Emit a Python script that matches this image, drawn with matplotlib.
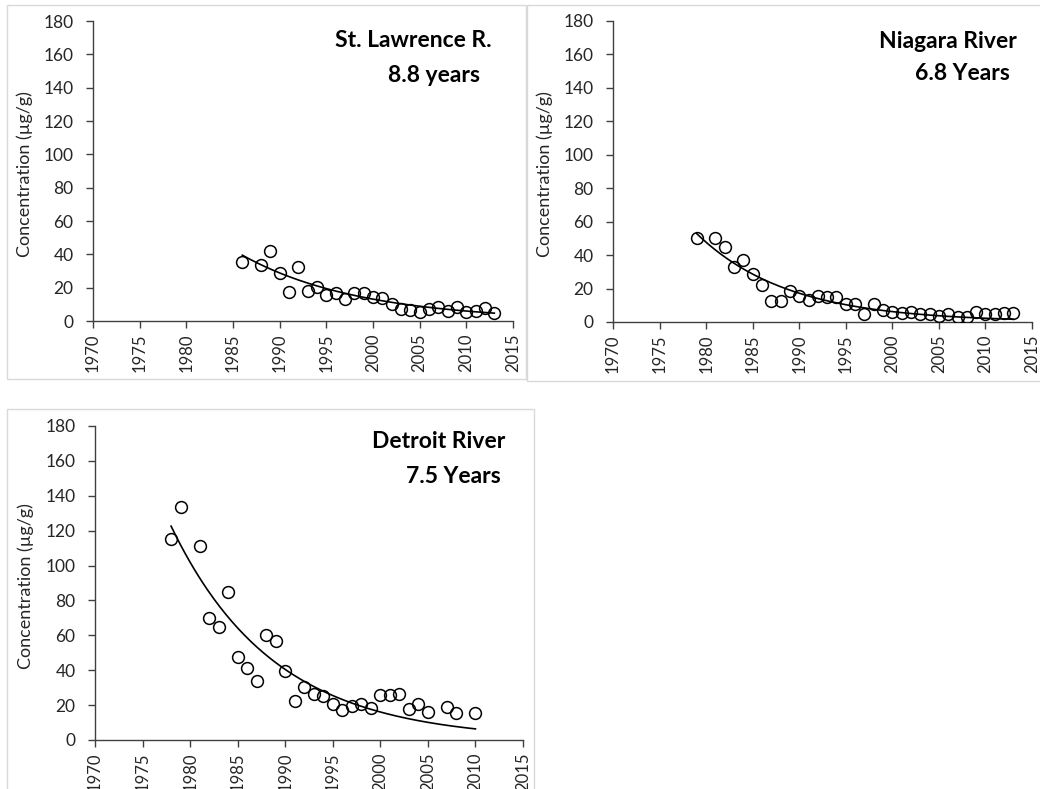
import matplotlib
matplotlib.use("Agg")
import matplotlib.pyplot as plt
import numpy as np
from matplotlib.patches import Rectangle

plt.rcParams["font.family"] = ["Lato", "DejaVu Sans"]

W, H = 1040, 789

# St. Lawrence River
sl_years = [1986, 1988, 1989, 1990, 1991, 1992, 1993, 1994, 1995, 1996, 1997, 1998, 1999, 2000,
            2001, 2002, 2003, 2004, 2005, 2006, 2007, 2008, 2009, 2010, 2011, 2012, 2013]
sl_conc = [35.6, 33.6, 42.2, 28.6, 17.6, 32.6, 18.2, 20.2, 15.6, 16.6, 13.2, 17.0, 16.6, 14.6,
           13.6, 10.2, 7.0, 6.6, 5.2, 7.0, 8.6, 6.2, 8.6, 5.2, 6.2, 7.6, 4.6]

# Niagara River
nr_years = [1979, 1981, 1982, 1983, 1984, 1985, 1986, 1987, 1988, 1989, 1990, 1991, 1992, 1993,
            1994, 1995, 1996, 1997, 1998, 1999, 2000, 2001, 2002, 2003, 2004, 2005, 2006, 2007,
            2008, 2009, 2010, 2011, 2012, 2013]
nr_conc = [50.0, 50.0, 45.0, 33.0, 37.0, 28.5, 22.0, 12.4, 12.4, 18.5, 15.5, 13.0, 15.3, 15.0,
           15.0, 10.6, 11.0, 4.6, 10.6, 7.0, 6.0, 5.6, 6.0, 5.0, 4.6, 3.6, 4.6, 3.0,
           3.0, 6.0, 5.0, 4.6, 5.6, 5.6]

# Detroit River
dr_years = [1978, 1979, 1981, 1982, 1983, 1984, 1985, 1986, 1987, 1988, 1989, 1990, 1991, 1992,
            1993, 1994, 1995, 1996, 1997, 1998, 1999, 2000, 2001, 2002, 2003, 2004, 2005, 2007,
            2008, 2010]
dr_conc = [115.0, 133.8, 111.0, 70.0, 65.0, 84.6, 47.8, 41.0, 33.6, 60.4, 56.5, 39.3, 22.2, 30.5,
           26.6, 25.0, 20.7, 17.3, 19.3, 20.7, 18.3, 25.6, 26.0, 26.6, 17.7, 20.7, 16.3, 18.7,
           15.7, 15.3]

# exponential decay fits: starting concentration and half-life (years)
fit_start = [39.5, 52.8, 122.6]
half_lives = [8.8, 6.8, 7.5]
site_names = ["St. Lawrence R.", "Niagara River", "Detroit River"]
half_life_labels = ["8.8 years", "6.8 Years", "7.5 Years"]

x_ticks = list(range(1970, 2016, 5))
y_ticks = list(range(0, 181, 20))


def fig_rect(x0, y0, x1, y1):
    """Pixel box (top-left origin) -> figure-fraction [left, bottom, width, height]."""
    return [x0 / W, 1 - y1 / H, (x1 - x0) / W, (y1 - y0) / H]


fig = plt.figure(figsize=(W / 100, H / 100), dpi=100)
fig.patch.set_facecolor("white")

# light chart-area borders
for box in [(7, 5, 526, 379), (527, 5, 1045, 381), (7, 409, 534, 795)]:
    l, b, w, h = fig_rect(*box)
    fig.patches.append(Rectangle((l, b), w, h, transform=fig.transFigure,
                                 fill=False, edgecolor="#d9d9d9", linewidth=1.0))

axes_boxes = [(93, 21, 513, 321), (613, 21, 1032, 322), (95, 426, 523, 740)]
title_pos = [((0.950, 0.914), (0.921, 0.798)),
             ((0.964, 0.910), (0.947, 0.804)),
             ((0.959, 0.929), (0.947, 0.819))]

series = [(sl_years, sl_conc), (nr_years, nr_conc), (dr_years, dr_conc)]

for i, (years, conc) in enumerate(series):
    ax = fig.add_axes(fig_rect(*axes_boxes[i]))
    t = np.linspace(years[0], years[-1], 200)
    fit = fit_start[i] * 0.5 ** ((t - years[0]) / half_lives[i])
    ax.plot(t, fit, color="black", linewidth=1.2, zorder=2)
    ax.plot(years, conc, linestyle="none", marker="o", markersize=8.5,
            markerfacecolor="none", markeredgecolor="black", markeredgewidth=1.1, zorder=3)

    ax.set_xlim(1970, 2015)
    ax.set_ylim(0, 180)
    ax.set_xticks(x_ticks)
    ax.set_yticks(y_ticks)
    ax.tick_params(direction="out", length=5, width=1.0, color="#404040",
                   labelcolor="#262626")
    ax.tick_params(axis="x", labelrotation=90, labelsize=12, pad=4)
    ax.tick_params(axis="y", labelsize=12.5, pad=9)
    for side in ["top", "right"]:
        ax.spines[side].set_visible(False)
    for side in ["left", "bottom"]:
        ax.spines[side].set_color("#404040")
        ax.spines[side].set_linewidth(1.0)
    ax.set_ylabel("Concentration (µg/g)", fontsize=13, color="#262626")
    ax.yaxis.set_label_coords(-0.143, 0.49)

    (x1, y1), (x2, y2) = title_pos[i]
    ax.text(x1, y1, site_names[i], transform=ax.transAxes, ha="right", va="baseline",
            fontsize=16.5, fontweight="bold", color="black")
    ax.text(x2, y2, half_life_labels[i], transform=ax.transAxes, ha="right", va="baseline",
            fontsize=16.5, fontweight="bold", color="black")

fig.savefig("out.png", dpi=100)
